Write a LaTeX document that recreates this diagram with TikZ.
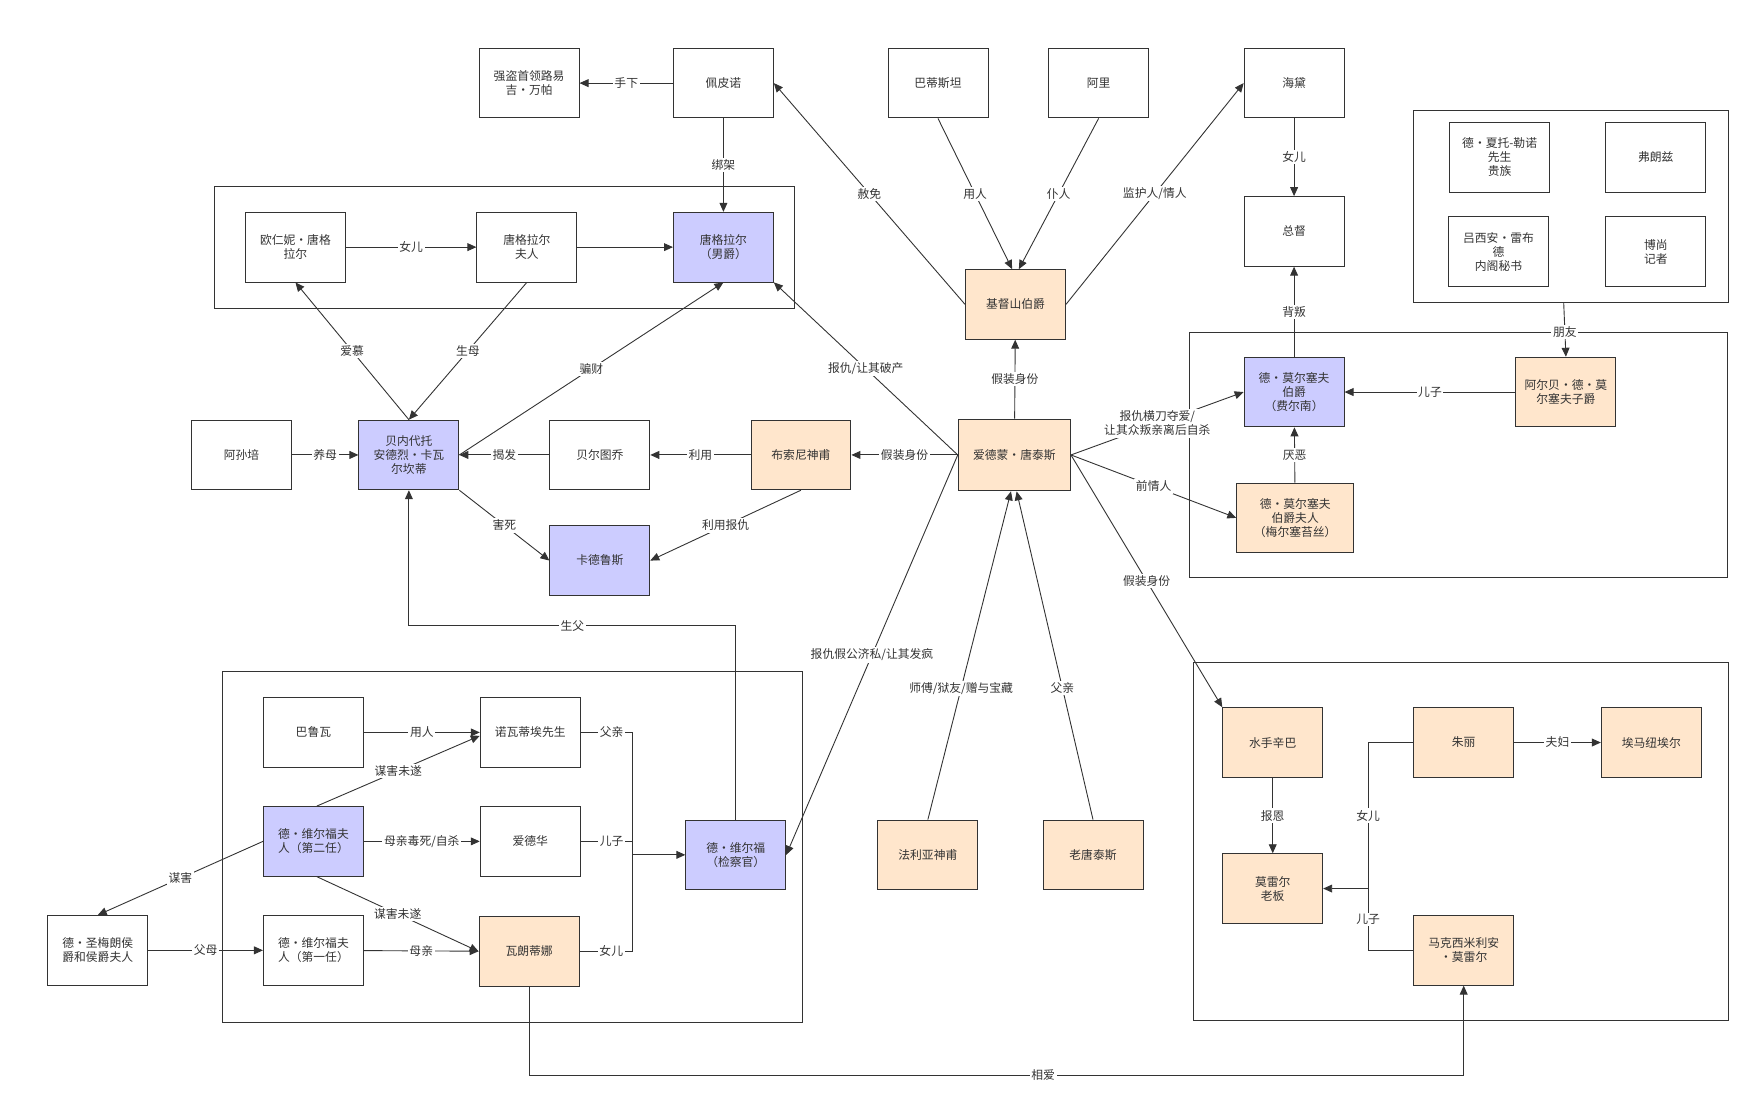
\documentclass[tikz,border=0pt]{standalone}
\usepackage{fontspec}
\setmainfont{Noto Sans CJK SC}
\usetikzlibrary{arrows.meta,positioning}
\definecolor{bluefill}{HTML}{CCCCFF}
\definecolor{orangefill}{HTML}{FFE6CC}
\definecolor{linecol}{HTML}{333333}
\tikzset{box/.style = {draw=linecol, thick, minimum width=89, minimum height=62, align=center, inner sep=2, font=\fontsize{10.5}{12.5}\selectfont, text=linecol}}
\tikzset{blue/.style = {box, fill=bluefill}}
\tikzset{orange/.style = {box, fill=orangefill}}
\tikzset{arr/.style = {draw=linecol, thick, -{Triangle[length=8pt,width=7pt]}}}
\tikzset{lnk/.style = {draw=linecol, thick}}
\tikzset{lbl/.style = {fill=white, inner sep=1.5, font=\fontsize{10.5}{12.5}\selectfont, text=linecol, align=center}}
\tikzset{frame/.style = {draw=linecol, thick}}

\begin{document}
\begin{tikzpicture}[x=1pt, y=-1pt]
      \useasboundingbox (0,0) rectangle (1565,984);
      % frames
      \draw [frame] (191,166) rectangle (707,275);
      \draw [frame] (1059,296) rectangle (1538,514);
      \draw [frame] (1258,98) rectangle (1539,269);
      \draw [frame] (198,598) rectangle (714,910);
      \draw [frame] (1062,590) rectangle (1539,908);
      % top
      \node [box] (wanpa) at (471,74) {强盗首领路易\\吉·万帕};
      \node [box] (peipinuo) at (644,74) {佩皮诺};
      \node [box] (badisitan) at (835,74) {巴蒂斯坦};
      \node [box] (ali) at (978,74) {阿里};
      \node [box] (haidai) at (1152,74) {海黛};
      \node [box] (zongdu) at (1152,206) {总督};
      % danglars
      \node [box] (ourenni) at (263,220) {欧仁妮·唐格\\拉尔};
      \node [box] (tangfuren) at (469,220) {唐格拉尔\\夫人};
      \node [blue] (tangnan) at (644,220) {唐格拉尔\\（男爵）};
      % center
      \node [orange] (jidushan) at (904,271) {基督山伯爵};
      \node [orange, minimum width=100, minimum height=64] (edmond) at (903,405) {爱德蒙·唐泰斯};
      \node [orange] (busuoni) at (713,405) {布索尼神甫};
      \node [box] (beiertu) at (534,405) {贝尔图乔};
      \node [blue] (bennei) at (364,405) {贝内代托\\安德烈·卡瓦\\尔坎蒂};
      \node [box] (asunpei) at (215,405) {阿孙培};
      \node [blue] (kadeluse) at (534,499) {卡德鲁斯};
      % morcerf
      \node [blue] (feiernan) at (1152,349) {德·莫尔塞夫\\伯爵\\（费尔南）};
      \node [orange] (aerbei) at (1394,349) {阿尔贝·德·莫\\尔塞夫子爵};
      \node [orange, minimum width=104] (meiersai) at (1153,461) {德·莫尔塞夫\\伯爵夫人\\（梅尔塞苔丝）};
      % friends
      \node [box] (xiatuo) at (1335,140) {德·夏托-勒诺\\先生\\贵族};
      \node [box] (fulangzi) at (1474,140) {弗朗兹};
      \node [box] (lvxian) at (1334,224) {吕西安·雷布\\德\\内阁秘书};
      \node [box] (boshang) at (1474,224) {博尚\\记者};
      \coordinate (friends) at (1392,269);
      % villefort
      \node [box] (baluwa) at (279,652) {巴鲁瓦};
      \node [box] (nuowadi) at (472,652) {诺瓦蒂埃先生};
      \node [blue] (weier2) at (279,749) {德·维尔福夫\\人（第二任）};
      \node [box] (aidehua) at (472,749) {爱德华};
      \node [blue] (weierfu) at (655,761) {德·维尔福\\（检察官）};
      \node [box] (weier1) at (279,846) {德·维尔福夫\\人（第一任）};
      \node [orange] (walangdi) at (471,847) {瓦朗蒂娜};
      \node [box] (shengmei) at (87,846) {德·圣梅朗侯\\爵和侯爵夫人};
      \node [orange] (faliya) at (826,761) {法利亚神甫};
      \node [orange] (laotang) at (973,761) {老唐泰斯};
      % morrel
      \node [orange] (xinba) at (1133,661) {水手辛巴};
      \node [orange] (moleier) at (1133,791) {莫雷尔\\老板};
      \node [orange] (zhuli) at (1303,661) {朱丽};
      \node [orange] (aima) at (1470,661) {埃马纽埃尔};
      \node [orange] (makexi) at (1303,846) {马克西米利安\\·莫雷尔};
      \coordinate (mergeV) at (563,761);
      \coordinate (mergeM) at (1218,791);
      % edges, top
      \draw [arr] (peipinuo) -- node [lbl] {手下} (wanpa);
      \draw [arr] (peipinuo) -- node [lbl] {绑架} (tangnan);
      \draw [arr] (ourenni) -- node [lbl] {女儿} (tangfuren);
      \draw [arr] (tangfuren) -- (tangnan);
      \draw [arr] (bennei.north) -- node [lbl] {爱慕} (ourenni.south);
      \draw [arr] (tangfuren.south) -- node [lbl] {生母} (bennei.north);
      \draw [arr] (bennei.east) -- node [lbl] {骗财} (tangnan.south);
      \draw [arr] (asunpei) -- node [lbl] {养母} (bennei);
      \draw [arr] (beiertu) -- node [lbl] {揭发} (bennei);
      \draw [arr] (busuoni) -- node [lbl] {利用} (beiertu);
      \draw [arr] (edmond) -- node [lbl] {假装身份} (busuoni);
      \draw [arr] (busuoni.south) -- node [lbl] {利用报仇} (kadeluse.east);
      \draw [arr] (bennei.south east) -- node [lbl] {害死} (kadeluse.west);
      \draw [arr] (weierfu.north) -- (655,557) -- node [lbl] {生父} (364,557) -- (bennei.south);
      \draw [arr] (edmond.west) -- node [lbl, pos=.5] {报仇/让其破产} (tangnan.south east);
      \draw [arr] (jidushan.west) -- node [lbl] {赦免} (peipinuo.east);
      \draw [arr] (badisitan.south) -- node [lbl, pos=.5] {用人} ([xshift=-3]jidushan.north);
      \draw [arr] (ali.south) -- node [lbl, pos=.5] {仆人} ([xshift=3]jidushan.north);
      \draw [arr] (jidushan.east) -- node [lbl] {监护人/情人} (haidai.west);
      \draw [arr] (haidai) -- node [lbl] {女儿} (zongdu);
      \draw [arr] (feiernan) -- node [lbl] {背叛} (zongdu);
      \draw [arr] (edmond) -- node [lbl] {假装身份} (jidushan);
      % edges, right
      \draw [arr] (edmond.east) -- node [lbl] {报仇横刀夺爱/\\让其众叛亲离后自杀} (feiernan.west);
      \draw [arr] (edmond.east) -- node [lbl] {前情人} (meiersai.west);
      \draw [arr] (aerbei) -- node [lbl] {儿子} (feiernan);
      \draw [arr] (meiersai) -- node [lbl] {厌恶} (feiernan);
      \draw [arr] (friends) -- node [lbl, pos=.55] {朋友} (aerbei.north);
      \draw [arr] (edmond.east) -- node [lbl] {假装身份} (xinba.north west);
      \draw [arr] (xinba) -- node [lbl] {报恩} (moleier);
      \draw [arr] (zhuli) -- node [lbl] {夫妇} (aima);
      \draw [lnk] (zhuli.west) -- (1218,661) -- node [lbl] {女儿} (mergeM);
      \draw [lnk] (makexi.west) -- (1218,846) -- node [lbl] {儿子} (mergeM);
      \draw [arr] (mergeM) -- (moleier.east);
      % edges, bottom
      \draw [arr] (edmond.west) -- node [lbl, pos=.5] {报仇假公济私/让其发疯} (weierfu.east);
      \draw [arr] (faliya.north) -- node [lbl, pos=.4] {师傅/狱友/赠与宝藏} ([xshift=-3]edmond.south);
      \draw [arr] (laotang.north) -- node [lbl, pos=.4] {父亲} ([xshift=2]edmond.south);
      \draw [arr] (baluwa) -- node [lbl] {用人} (nuowadi);
      \draw [arr] ([xshift=3]weier2.north) -- node [lbl] {谋害未遂} ([yshift=-3]nuowadi.west);
      \draw [arr] (weier2) -- node [lbl] {母亲毒死/自杀} (aidehua);
      \draw [arr] ([xshift=3]weier2.south) -- node [lbl] {谋害未遂} (walangdi.west);
      \draw [arr] (weier2.west) -- node [lbl] {谋害} (shengmei.north);
      \draw [arr] (shengmei) -- node [lbl] {父母} (weier1);
      \draw [arr] (weier1) -- node [lbl] {母亲} (walangdi);
      \draw [lnk] (nuowadi.east) -- node [lbl, pos=.6] {父亲} (563,652) -- (mergeV);
      \draw [lnk] (aidehua.east) -- node [lbl, pos=.6] {儿子} (563,749) -- (mergeV);
      \draw [lnk] (walangdi.east) -- node [lbl, pos=.6] {女儿} (563,847) -- (mergeV);
      \draw [arr] (mergeV) -- (weierfu.west);
      \draw [arr] (walangdi.south) -- (471,957) -- node [lbl, pos=.55] {相爱} (1303,957) -- (makexi.south);
\end{tikzpicture}
\end{document}
